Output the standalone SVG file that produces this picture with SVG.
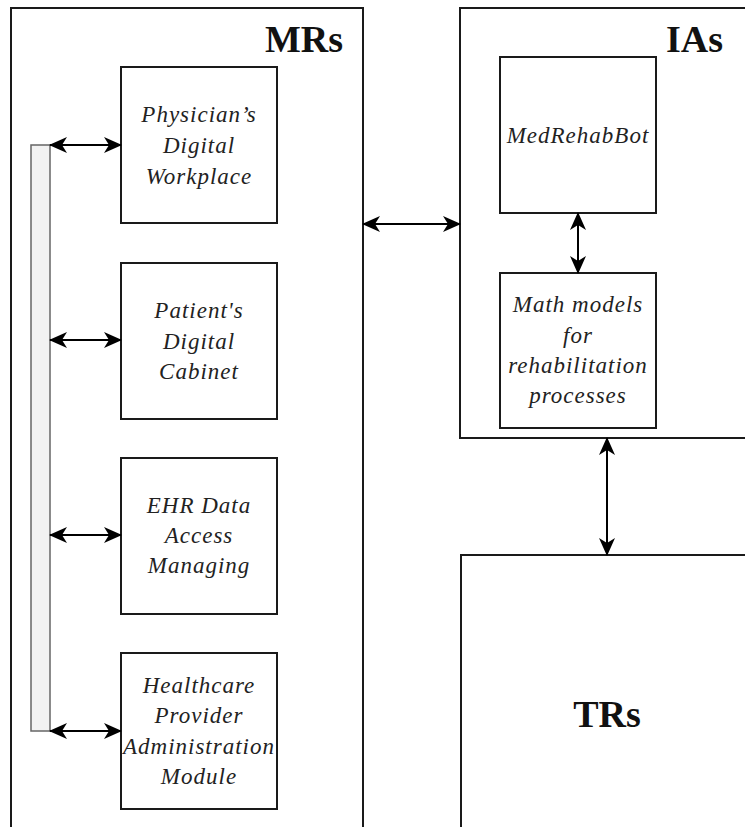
<svg xmlns="http://www.w3.org/2000/svg" width="745" height="827" viewBox="0 0 745 827">
  <style>
    .box { fill: #ffffff; stroke: #1a1a1a; stroke-width: 2; }
    .bar { fill: #f2f2f2; stroke: #666666; stroke-width: 1.5; }
    .link { stroke: #000000; stroke-width: 2; fill: none; marker-start: url(#head); marker-end: url(#head); }
  </style>
  <defs>
    <marker id="head" viewBox="0 0 18 16" refX="17" refY="8" markerWidth="18" markerHeight="16" markerUnits="userSpaceOnUse" orient="auto-start-reverse">
      <path d="M0,0 L18,8 L0,16 L5,8 Z" fill="#000000"/>
    </marker>
  </defs>

  <rect width="745" height="827" fill="#ffffff"/>

  <!-- Medical resources container -->
  <g id="mrs">
    <rect class="box" x="11" y="8" width="352" height="840"/>
    <text x="343" y="52" text-anchor="end" font-family="Liberation Serif" font-weight="bold" font-size="38" fill="#111111">MRs</text>
  </g>

  <!-- Shared bus bar -->
  <g id="bus">
    <rect class="bar" x="31" y="145" width="19" height="586"/>
  </g>

  <g id="physician" font-family="Liberation Serif" font-style="italic" font-size="23" letter-spacing="1" fill="#222222" text-anchor="middle">
    <rect class="box" x="121" y="67" width="156" height="156"/>
    <text x="199" y="122" font-family="Liberation Serif">Physician’s</text>
    <text x="199" y="153" font-family="Liberation Serif">Digital</text>
    <text x="199" y="184" font-family="Liberation Serif">Workplace</text>
  </g>

  <g id="patient" font-family="Liberation Serif" font-style="italic" font-size="23" letter-spacing="1" fill="#222222" text-anchor="middle">
    <rect class="box" x="121" y="263" width="156" height="156"/>
    <text x="199" y="318" font-family="Liberation Serif">Patient's</text>
    <text x="199" y="349" font-family="Liberation Serif">Digital</text>
    <text x="199" y="379" font-family="Liberation Serif">Cabinet</text>
  </g>

  <g id="ehr" font-family="Liberation Serif" font-style="italic" font-size="23" letter-spacing="1" fill="#222222" text-anchor="middle">
    <rect class="box" x="121" y="458" width="156" height="156"/>
    <text x="199" y="513" font-family="Liberation Serif">EHR Data</text>
    <text x="199" y="543" font-family="Liberation Serif">Access</text>
    <text x="199" y="573" font-family="Liberation Serif">Managing</text>
  </g>

  <g id="provider" font-family="Liberation Serif" font-style="italic" font-size="23" letter-spacing="1" fill="#222222" text-anchor="middle">
    <rect class="box" x="121" y="653" width="156" height="156"/>
    <text x="199" y="693" font-family="Liberation Serif">Healthcare</text>
    <text x="199" y="723" font-family="Liberation Serif">Provider</text>
    <text x="199" y="754" font-family="Liberation Serif">Administration</text>
    <text x="199" y="784" font-family="Liberation Serif">Module</text>
  </g>

  <!-- Intelligent agents container -->
  <g id="ias">
    <rect class="box" x="460" y="8" width="300" height="430"/>
    <text x="723" y="52" text-anchor="end" font-family="Liberation Serif" font-weight="bold" font-size="38" fill="#111111">IAs</text>
  </g>

  <g id="medrehabbot" font-family="Liberation Serif" font-style="italic" font-size="23" letter-spacing="1" fill="#222222" text-anchor="middle">
    <rect class="box" x="500" y="57" width="156" height="156"/>
    <text x="578" y="143" font-family="Liberation Serif">MedRehabBot</text>
  </g>

  <g id="mathmodels" font-family="Liberation Serif" font-style="italic" font-size="23" letter-spacing="1" fill="#222222" text-anchor="middle">
    <rect class="box" x="500" y="273" width="156" height="155"/>
    <text x="578" y="312" font-family="Liberation Serif">Math models</text>
    <text x="578" y="343" font-family="Liberation Serif">for</text>
    <text x="578" y="373" font-family="Liberation Serif">rehabilitation</text>
    <text x="578" y="403" font-family="Liberation Serif">processes</text>
  </g>

  <!-- Technical resources container -->
  <g id="trs">
    <rect class="box" x="461" y="555" width="300" height="300"/>
    <text x="607" y="727" text-anchor="middle" font-family="Liberation Serif" font-weight="bold" font-size="38" fill="#111111">TRs</text>
  </g>

  <!-- Connectors -->
  <g id="connectors">
    <line class="link" x1="50" y1="145" x2="121" y2="145"/>
    <line class="link" x1="50" y1="340" x2="121" y2="340"/>
    <line class="link" x1="50" y1="535" x2="121" y2="535"/>
    <line class="link" x1="50" y1="731" x2="121" y2="731"/>
    <line class="link" x1="363" y1="224" x2="460" y2="224"/>
    <line class="link" x1="578" y1="213" x2="578" y2="273"/>
    <line class="link" x1="607" y1="438" x2="607" y2="555"/>
  </g>
</svg>
